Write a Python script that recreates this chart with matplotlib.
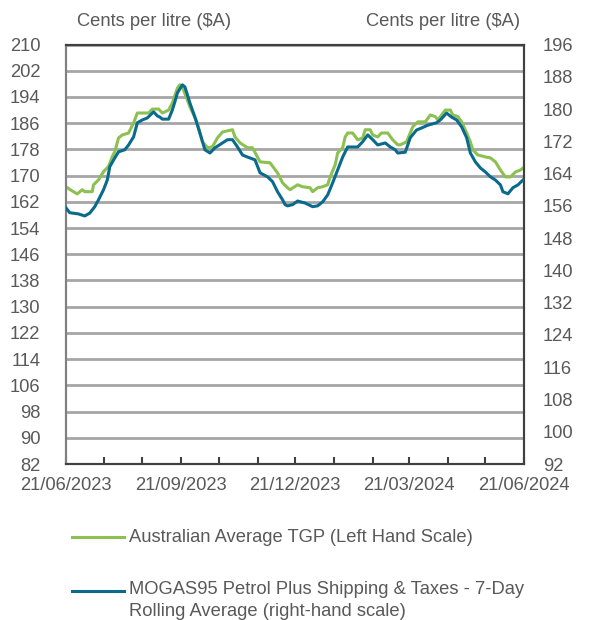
import pandas as pd
import matplotlib
matplotlib.use("Agg")
import matplotlib.pyplot as plt
import matplotlib.dates as mdates
from matplotlib.lines import Line2D

plt.rcParams['font.family'] = ['Liberation Sans', 'DejaVu Sans']

# days after 21/06/2023, values in cents per litre
tgp_days = [0, 3, 9, 13, 15, 21, 22, 26, 30, 34, 37, 39, 42, 45, 50, 54, 57, 66, 69, 74,
            77, 82, 85, 89, 91, 93, 99, 105, 109, 113, 117, 121, 125, 133, 135, 139, 145,
            149, 155, 163, 169, 173, 177, 179, 185, 189, 195, 197, 201, 205, 209, 211, 215,
            217, 221, 223, 225, 229, 233, 237, 239, 243, 245, 249, 252, 257, 261, 265, 267,
            272, 277, 281, 287, 291, 295, 297, 300, 303, 307, 309, 313, 316, 320, 323, 325,
            329, 335, 339, 343, 347, 351, 355, 359, 363, 366]
tgp_vals = [166.6, 165.8, 164.4, 165.7, 165.1, 165.1, 167.2, 168.7, 171.2, 172.8, 175.8,
            177.3, 181.5, 182.4, 183.0, 186.1, 189.1, 189.1, 190.3, 190.3, 189.1, 190.0,
            192.2, 196.7, 197.7, 197.0, 191.0, 186.0, 180.3, 178.5, 178.8, 181.5, 183.3,
            184.0, 181.8, 180.0, 178.5, 178.5, 174.2, 173.9, 170.8, 167.8, 166.3, 165.7,
            167.2, 166.6, 166.3, 165.1, 166.3, 166.6, 167.2, 169.6, 173.3, 176.9, 178.5,
            181.8, 183.0, 183.0, 180.9, 181.5, 184.0, 184.0, 182.4, 181.8, 183.0, 183.0,
            180.9, 179.4, 179.4, 180.3, 184.9, 186.4, 186.4, 188.5, 188.0, 187.0, 188.5,
            190.0, 190.0, 188.5, 188.0, 186.4, 183.0, 180.3, 177.8, 176.3, 175.7, 175.4,
            174.2, 171.7, 169.6, 169.6, 171.1, 171.7, 172.6]

mogas_days = [0, 3, 10, 15, 19, 23, 26, 30, 33, 35, 39, 42, 47, 50, 54, 57, 61, 65, 70, 73,
              75, 77, 82, 85, 87, 89, 93, 95, 99, 103, 107, 111, 115, 119, 125, 129, 133,
              137, 141, 145, 151, 155, 161, 165, 169, 173, 175, 177, 181, 185, 191, 197,
              201, 205, 209, 213, 217, 221, 225, 231, 233, 237, 241, 245, 249, 255, 259,
              263, 265, 271, 275, 280, 284, 289, 296, 299, 304, 308, 312, 316, 320, 323,
              327, 331, 335, 339, 343, 347, 349, 353, 357, 361, 365]
mogas_vals = [155.5, 154.3, 154.0, 153.5, 154.2, 155.8, 157.5, 160.0, 162.4, 165.7, 167.9,
              169.4, 169.9, 171.1, 173.1, 176.6, 177.3, 177.8, 179.3, 178.3, 178.0, 177.5,
              177.5, 179.8, 181.8, 184.0, 186.0, 185.5, 181.5, 178.0, 174.0, 169.9, 169.1,
              170.4, 171.6, 172.4, 172.4, 170.6, 168.6, 168.1, 167.4, 164.2, 163.2, 162.0,
              159.5, 157.5, 156.3, 156.0, 156.3, 157.2, 156.7, 155.8, 156.0, 157.0, 158.7,
              161.7, 164.9, 168.1, 170.6, 170.6, 170.6, 171.9, 173.6, 172.4, 171.1, 171.6,
              170.6, 169.9, 169.1, 169.3, 172.9, 174.8, 175.3, 176.0, 176.6, 177.3, 179.0,
              178.0, 177.3, 175.6, 172.9, 169.1, 166.9, 165.4, 164.4, 163.2, 162.4, 161.2,
              159.5, 159.0, 160.5, 161.2, 162.4]

left_ticks = list(range(82, 211, 8))
right_ticks = list(range(92, 197, 8))

start = pd.Timestamp("2023-06-21")
end = pd.Timestamp("2024-06-21")
tgp_dates = start + pd.to_timedelta(tgp_days, unit="D")
mogas_dates = start + pd.to_timedelta(mogas_days, unit="D")

green = "#8CC152"
blue = "#0A6A8E"
text_col = "#595959"
grid_col = "#A6A6A6"
spine_col = "#404040"
fs = 13.2

fig = plt.figure(figsize=(5.89, 6.2), dpi=100)
ax = fig.add_axes([0.112, 0.2516, 0.778, 0.6766])
ax2 = ax.twinx()

ax.set_ylim(82, 210)
ax.set_yticks(left_ticks)
ax2.set_ylim(92, 196)
ax2.set_yticks(right_ticks)
ax.set_xlim(start, end)

ax.grid(axis="y", color=grid_col, linewidth=2.0, zorder=0)
ax.set_axisbelow(True)

ax.plot(tgp_dates, tgp_vals, color=green, linewidth=2.2, zorder=3)
ax2.plot(mogas_dates, mogas_vals, color=blue, linewidth=2.2, zorder=3)

ax.xaxis.set_major_locator(mdates.MonthLocator(bymonth=[3, 6, 9, 12], bymonthday=21))
ax.xaxis.set_minor_locator(mdates.MonthLocator(bymonthday=21))
ax.xaxis.set_major_formatter(mdates.DateFormatter("%d/%m/%Y"))

ax.tick_params(axis="x", which="both", direction="in", length=5, width=1.5,
               color=spine_col, labelsize=fs, labelcolor=text_col, pad=9)
ax.tick_params(axis="y", length=0, labelsize=fs, labelcolor=text_col, pad=18.5)
ax2.tick_params(axis="y", length=0, labelsize=fs, labelcolor=text_col, pad=13.5)

for a in (ax, ax2):
    for side in ("top", "bottom", "right"):
        a.spines[side].set_color(spine_col)
        a.spines[side].set_linewidth(1.5)
    a.spines["left"].set_color("#808080")
    a.spines["left"].set_linewidth(1.5)

fig.text(77 / 589, 1 - 21 / 620, "Cents per litre ($A)", ha="left", va="center",
         fontsize=fs, color=text_col)
fig.text(520 / 589, 1 - 21 / 620, "Cents per litre ($A)", ha="right", va="center",
         fontsize=fs, color=text_col)

# legend below the plot
fig.add_artist(Line2D([72 / 589, 124 / 589], [1 - 537 / 620, 1 - 537 / 620],
                      color=green, linewidth=2.2))
fig.text(129 / 589, 1 - 537 / 620, "Australian Average TGP (Left Hand Scale)",
         ha="left", va="center", fontsize=fs, color=text_col)
fig.add_artist(Line2D([72 / 589, 124 / 589], [1 - 591 / 620, 1 - 591 / 620],
                      color=blue, linewidth=2.2))
fig.text(129 / 589, 1 - 590 / 620, "MOGAS95 Petrol Plus Shipping & Taxes - 7-Day",
         ha="left", va="center", fontsize=fs, color=text_col)
fig.text(129 / 589, 1 - 611 / 620, "Rolling Average (right-hand scale)",
         ha="left", va="center", fontsize=fs, color=text_col)

fig.savefig("out.png", dpi=100)
